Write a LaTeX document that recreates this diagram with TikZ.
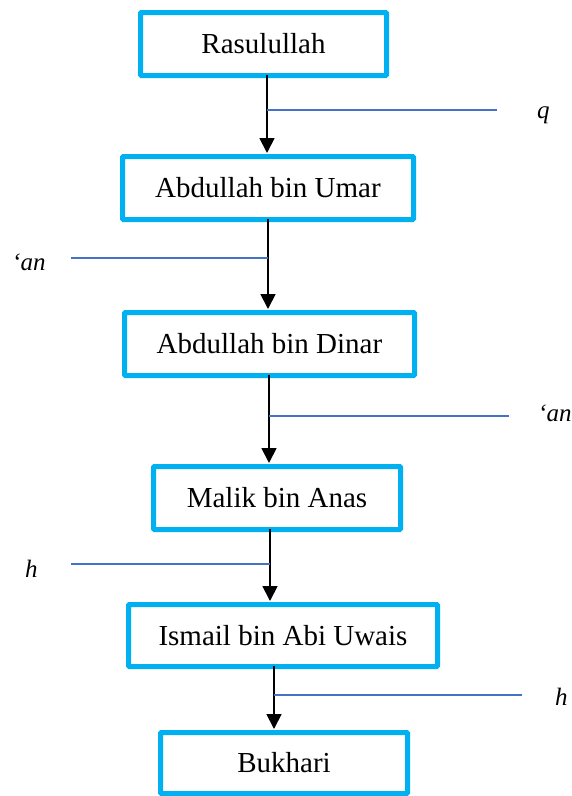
\documentclass[tikz,border=0pt]{standalone}
\usepackage{fontspec}
\setmainfont{Liberation Serif}
\usetikzlibrary{arrows.meta}
\definecolor{boxcyan}{HTML}{00B0F0}
\definecolor{lineblue}{HTML}{4472C4}
\tikzset{
  isnadbox/.style={draw=boxcyan, line width=5pt, rounded corners=1pt, inner sep=0pt,
    font=\fontsize{29}{34}\selectfont, text=black},
  chainarrow/.style={draw=black, line width=1.8pt, -{Triangle[length=15pt,width=15pt]}, shorten >=1pt},
  markline/.style={draw=lineblue, line width=1.6pt},
  marklabel/.style={font=\itshape\fontsize{25}{30}\selectfont, anchor=base west, inner sep=0pt}
}
\begin{document}
\begin{tikzpicture}[x=1pt,y=-1pt]
\useasboundingbox (0,0) rectangle (571,796);
% boxes
\node[isnadbox, minimum width=246pt, minimum height=63pt] (r) at (263.5,44) {Rasulullah};
\node[isnadbox, minimum width=291pt, minimum height=63pt] (u) at (268,188) {Abdullah bin Umar};
\node[isnadbox, minimum width=290pt, minimum height=63pt] (d) at (269.5,344) {Abdullah bin Dinar};
\node[isnadbox, minimum width=247pt, minimum height=63pt] (m) at (277,498) {Malik bin Anas};
\node[isnadbox, minimum width=309pt, minimum height=62pt] (i) at (283,635.5) {Ismail bin Abi Uwais};
\node[isnadbox, minimum width=247pt, minimum height=61pt] (b) at (284,763) {Bukhari};
% arrow start points
\coordinate (a1) at (267,75);
\coordinate (a2) at (268,219);
\coordinate (a3) at (269,375);
\coordinate (a4) at (270,529);
\coordinate (a5) at (274,666);
\draw[chainarrow] (a1) -- (a1 |- u.north);
\draw[chainarrow] (a2) -- (a2 |- d.north);
\draw[chainarrow] (a3) -- (a3 |- m.north);
\draw[chainarrow] (a4) -- (a4 |- i.north);
\draw[chainarrow] (a5) -- (a5 |- b.north);
% marker lines
\coordinate (e1) at (497,110);
\coordinate (e2) at (71,258);
\coordinate (e3) at (509,416);
\coordinate (e4) at (71,564);
\coordinate (e5) at (522,695);
\draw[markline] (a1 |- e1) -- (e1);
\draw[markline] (e2) -- (a2 |- e2);
\draw[markline] (a3 |- e3) -- (e3);
\draw[markline] (e4) -- (a4 |- e4);
\draw[markline] (a5 |- e5) -- (e5);
% labels
\node[marklabel] (l1) at (537,118) {q};
\node[marklabel] (l2) at (12,270) {‘an};
\node[marklabel] (l3) at (538,421) {‘an};
\node[marklabel] (l4) at (25,577) {h};
\node[marklabel] (l5) at (555,705) {h};
\end{tikzpicture}
\end{document}
